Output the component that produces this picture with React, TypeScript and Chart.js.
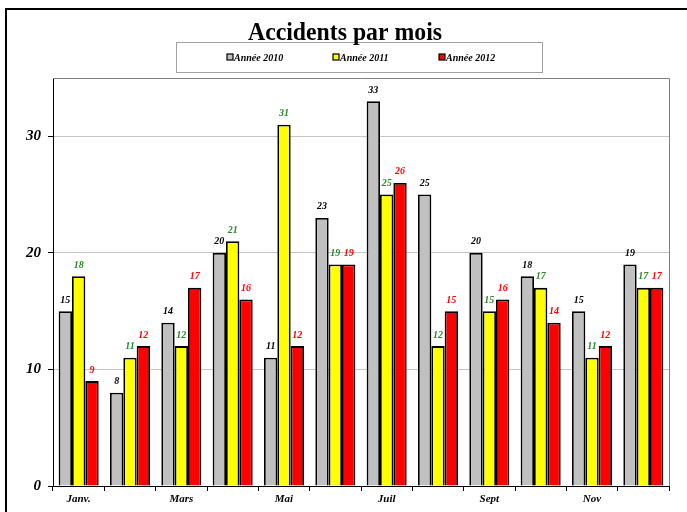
import React, { useEffect, useRef } from "react";
import { Chart, registerables } from "chart.js";

Chart.register(...registerables);

const months = ["Janv.", "Févr.", "Mars", "Avr.", "Mai", "Juin", "Juil", "Août", "Sept", "Oct.", "Nov", "Déc."];
const tickLabels = ["Janv.", "", "Mars", "", "Mai", "", "Juil", "", "Sept", "", "Nov", ""];
const seriesNames = ["Année 2010", "Année 2011", "Année 2012"];
const values2010 = [15, 8, 14, 20, 11, 23, 33, 25, 20, 18, 15, 19];
const values2011 = [18, 11, 12, 21, 31, 19, 25, 12, 15, 17, 11, 17];
const values2012 = [9, 12, 17, 16, 12, 19, 26, 15, 16, 14, 12, 17];
const barColors = ["#c0c0c0", "#ffff00", "#ff0000"];
const labelColors = ["#000000", "#2a8a2a", "#ff0000"];
const titleText = "Accidents par mois";
const yTicks = [0, 10, 20, 30];

const SERIF = "'Liberation Serif', 'DejaVu Serif', serif";

export default function App() {
  const ref = useRef<HTMLCanvasElement | null>(null);

  useEffect(() => {
    document.body.style.margin = "0";
    const canvas = ref.current!;
    const decor = {
      id: "decor",
      beforeDraw(chart: any) {
        const ctx = chart.ctx;
        ctx.save();
        ctx.fillStyle = "#fff";
        ctx.fillRect(0, 0, chart.width, chart.height);
        ctx.restore();
      },
      afterDatasetsDraw(chart: any) {
        const ctx = chart.ctx;
        const ca = chart.chartArea;
        ctx.save();
        // plot area top/right border
        ctx.strokeStyle = "#808080";
        ctx.lineWidth = 1;
        ctx.beginPath();
        ctx.moveTo(ca.left, ca.top + 0.5);
        ctx.lineTo(ca.right + 0.5, ca.top + 0.5);
        ctx.lineTo(ca.right + 0.5, ca.bottom);
        ctx.stroke();
        // value labels
        ctx.font = `italic bold 10px ${SERIF}`;
        ctx.textAlign = "center";
        ctx.textBaseline = "bottom";
        chart.data.datasets.forEach((ds: any, i: number) => {
          const meta = chart.getDatasetMeta(i);
          ctx.fillStyle = labelColors[i];
          meta.data.forEach((el: any, j: number) => {
            ctx.fillText(String(ds.data[j]), el.x, el.y - 6);
          });
        });
        // outer border
        ctx.strokeStyle = "#000";
        ctx.lineWidth = 2;
        ctx.strokeRect(6, 9, 720, 600);
        // legend box
        ctx.fillStyle = "#fff";
        ctx.fillRect(176.5, 42.5, 366, 30);
        ctx.strokeStyle = "#a0a0a0";
        ctx.lineWidth = 1;
        ctx.strokeRect(176.5, 42.5, 366, 30);
        ctx.font = `italic bold 10px ${SERIF}`;
        ctx.textAlign = "left";
        ctx.textBaseline = "middle";
        const xs = [227, 333, 439];
        seriesNames.forEach((name, i) => {
          ctx.fillStyle = barColors[i];
          ctx.fillRect(xs[i], 54, 6, 6);
          ctx.strokeStyle = "#000";
          ctx.lineWidth = 1.2;
          ctx.strokeRect(xs[i], 54, 6, 6);
          ctx.fillStyle = "#000";
          ctx.fillText(name, xs[i] + 7, 58);
        });
        // title
        ctx.save();
        ctx.fillStyle = "#000";
        ctx.font = `bold 25px ${SERIF}`;
        ctx.textAlign = "center";
        ctx.textBaseline = "alphabetic";
        ctx.translate(345, 40);
        ctx.scale(0.95, 1);
        ctx.fillText(titleText, 0, 0);
        ctx.restore();
        ctx.restore();
      },
    };

    const chart = new Chart(canvas, {
      type: "bar",
      data: {
        labels: months,
        datasets: seriesNames.map((name, i) => ({
          label: name,
          data: [values2010, values2011, values2012][i],
          backgroundColor: barColors[i],
          borderColor: "#000",
          borderWidth: 1.8,
          categoryPercentage: 0.78,
          barPercentage: 1,
        })),
      },
      options: {
        animation: false,
        responsive: false,
        maintainAspectRatio: false,
        layout: { padding: { left: 0, right: 18, top: 78, bottom: 0 } },
        plugins: { legend: { display: false }, title: { display: false }, tooltip: { enabled: false } },
        scales: {
          x: {
            afterFit: (s: any) => { s.height = 26; },
            grid: { offset: true, drawOnChartArea: false, drawTicks: true, tickLength: 5, color: "#000" },
            border: { display: true, color: "#000", width: 1 },
            ticks: {
              autoSkip: false,
              maxRotation: 0,
              padding: 2,
              color: "#000",
              font: { family: SERIF, size: 11, style: "italic", weight: "bold" },
              callback: (_v: any, i: number) => tickLabels[i],
            },
          },
          y: {
            min: 0,
            max: 35,
            afterFit: (s: any) => { s.width = 53; },
            afterBuildTicks: (s: any) => { s.ticks = yTicks.map((v) => ({ value: v })); },
            grid: { color: "#c4c4c4", tickColor: "#000", tickLength: 5, drawTicks: true },
            border: { display: true, color: "#000", width: 1 },
            ticks: {
              padding: 7,
              color: "#000",
              font: { family: SERIF, size: 15, style: "italic", weight: "bold" },
            },
          },
        },
      },
      plugins: [decor],
    });
    return () => chart.destroy();
  }, []);

  return (
    <div style={{ position: "fixed", left: 0, top: 0, width: 687, height: 512 }}>
      <canvas ref={ref} width={687} height={512} style={{ width: 687, height: 512, display: "block" }} />
    </div>
  );
}
